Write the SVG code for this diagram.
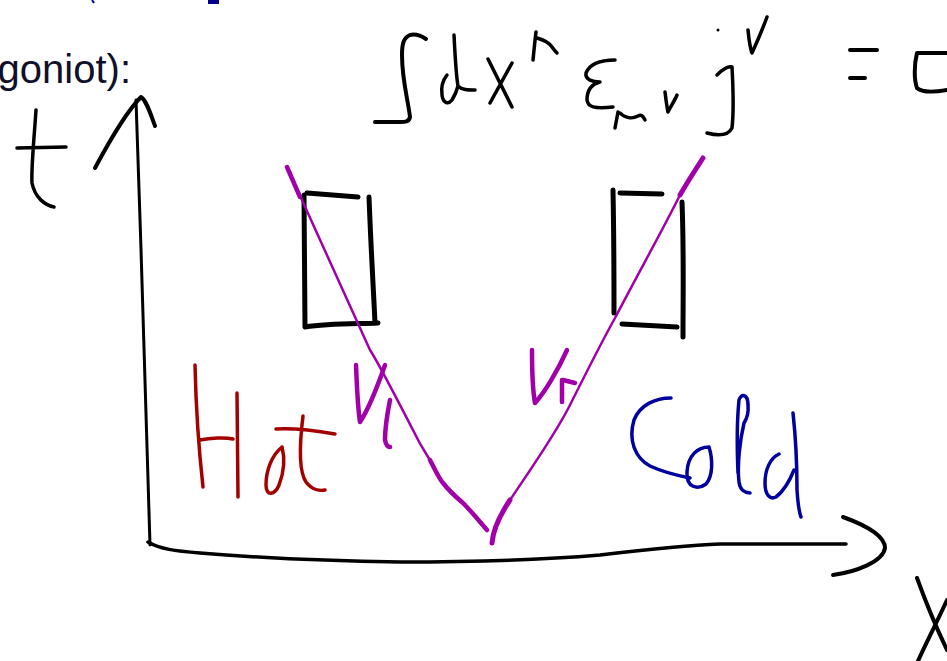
<svg xmlns="http://www.w3.org/2000/svg" width="947" height="661" viewBox="0 0 947 661">
<style>
.k{fill:none;stroke:#000;stroke-linecap:round;stroke-linejoin:round}
.p{fill:none;stroke:#a100a9;stroke-linecap:round;stroke-linejoin:round}
.r{fill:none;stroke:#a30000;stroke-width:3.5;stroke-linecap:round;stroke-linejoin:round}
.b{fill:none;stroke:#00009f;stroke-width:3.5;stroke-linecap:round;stroke-linejoin:round}
.txt{font-family:"Liberation Sans",Arial,sans-serif;font-size:40px;fill:#10102a}
</style>
<rect width="947" height="661" fill="#fff"/>
<g id="header">
<line x1="92" y1="0" x2="94" y2="3" stroke="#00008a" stroke-width="2"/>
<rect x="208" y="0" width="11" height="4" fill="#00008a"/>
<text class="txt" x="131" y="83" text-anchor="end">goniot):</text>
</g>
<g id="formula">
<path class="k" stroke-width="4" d="M426,39 C420,35 414,34 410,35 C403,38 402,45 402,55 C402,80 408,100 410,117 C409,122 405,122 400,122 L375,122"/>
<path class="k" stroke-width="3.5" d="M454,35 C455,55 456,75 458,86 C462,90 468,90 475,90 M447,75 C443,80 441,88 442,95 C443,103 448,105 452,100 C455,95 457,90 458,86"/>
<path class="k" stroke-width="3.5" d="M488,59 L512,107 M512,63 L490,103"/>
<path class="k" stroke-width="3.5" d="M533,60 C534,50 535,40 536,32 M537,38 C544,40 550,44 552,47 C554,50 556,52 557,53"/>
<path class="k" stroke-width="3.5" d="M615,60 C603,60 590,63 586,73 C585,80 593,82 600,82 C592,84 587,90 587,100 C588,107 594,109 613,107"/>
<path class="k" stroke-width="3.5" d="M615,128 L618,112 M620,113 C625,118 632,119 638,116 C641,114 643,116 645,120"/>
<path class="k" stroke-width="3.5" d="M665,92 C666,100 667,108 668,112 C671,106 675,100 677,95"/>
<path class="k" stroke-width="3.5" d="M717,75 C722,70 728,66 732,67 C733,85 734,110 732,128 C728,136 718,136 707,133"/>
<circle cx="718" cy="30" r="1.5" fill="#000"/>
<path class="k" stroke-width="3.5" d="M748,30 C749,40 750,48 752,53 C757,42 763,28 767,17"/>
<path class="k" stroke-width="4" d="M850,50 L877,50 M850,78 L865,78"/>
<path class="k" stroke-width="4" d="M947,53 L917,53 C914,65 914,80 917,88 C922,93 935,92 947,90"/>
</g>
<g id="axes">
<path class="k" stroke-width="3" d="M150,545 C147,420 141,250 136,100"/>
<path class="k" stroke-width="4" d="M95,168 C110,140 128,110 141,97 C146,100 150,112 155,126"/>
<path class="k" stroke-width="3.5" d="M36,110 C34,140 31,170 32,183 C35,198 45,205 54,207 M17,148 L66,147"/>
<path class="k" stroke-width="3.5" d="M148,542 C160,549 175,551 200,553 C260,558 320,561 400,562 C480,562 540,560 600,555 C650,549 690,545 720,544 L846,544"/>
<path class="k" stroke-width="4" d="M843,517 C865,525 885,535 885,548 C883,562 855,572 833,575"/>
<path class="k" stroke-width="4" d="M917,578 C925,600 935,625 947,650 M947,600 C938,620 925,645 918,661"/>
</g>
<g id="box-left">
<path class="k" stroke-width="5" d="M307,193 L358,197 M304,195 L305,327 M305,327 C330,323 360,324 378,323 M369,197 C371,250 374,300 375,323"/>
</g>
<g id="box-right">
<path class="k" stroke-width="5" d="M613,190 C614,240 614,290 614,313 M620,193 L662,194 M682,202 C684,250 683,300 683,337 M622,324 L677,327"/>
</g>
<g id="shock-lines">
<path class="p" stroke-width="2.5" d="M287,167 L370,350 C378,362 400,405 413,430 C420,445 425,452 430,460 C436,472 440,480 443,483 C450,492 456,497 463,503 C472,512 480,522 487,530"/>
<path class="p" stroke-width="4.5" d="M287,167 L300,197 M430,460 C436,472 440,480 443,483 C450,492 456,497 463,503 C472,512 480,522 487,530"/>
<path class="p" stroke-width="2.5" d="M703,158 C690,178 684,188 680,195 C660,235 640,270 615,318 C600,345 585,375 570,405 C555,435 530,470 510,500 C500,515 493,530 492,543"/>
<path class="p" stroke-width="5" d="M703,158 C690,178 684,188 680,195 M510,500 C500,515 493,530 492,543"/>
<path class="p" stroke-width="4.5" d="M356,365 C357,390 358,410 360,422 C368,410 378,385 385,365 M390,400 C387,415 385,430 385,440 C386,445 388,447 390,447"/>
<path class="p" stroke-width="4.5" d="M532,350 C532,375 533,392 535,403 C545,392 558,370 567,350 M562,380 L562,402 M563,380 L575,383"/>
</g>
<g id="hot">
<path class="r" d="M195,365 C196,410 200,460 203,487 M200,440 C210,438 225,437 233,439 M237,393 L238,497"/>
<path class="r" d="M282,447 C272,455 266,470 266,485 C266,497 275,495 279,485 C284,472 285,458 282,447"/>
<path class="r" d="M303,416 C300,440 298,470 306,482 C312,490 320,491 325,490 M276,429 C295,428 318,431 335,434"/>
</g>
<g id="cold">
<path class="b" d="M671,398 C655,398 640,405 634,420 C628,440 635,458 650,466 C665,473 680,476 690,478"/>
<path class="b" d="M709,447 C698,447 688,455 687,472 C686,488 698,490 706,484 C713,476 713,460 709,447"/>
<path class="b" d="M738,473 C737,450 737,420 739,400 C741,393 748,394 748,405 C749,415 746,420 744,423 C740,440 737,465 739,482 C740,490 745,493 750,493"/>
<path class="b" d="M793,413 C796,440 797,470 797,490 C798,505 799,512 801,517 M779,454 C770,458 765,470 765,483 C765,495 770,500 776,497 C785,490 790,480 794,470"/>
</g>
</svg>
